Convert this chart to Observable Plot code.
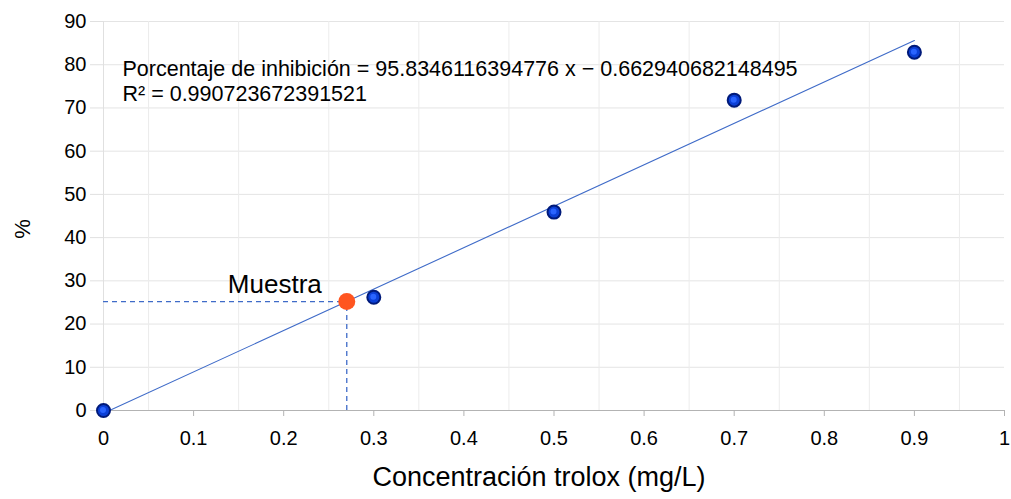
<!DOCTYPE html>
<html>
<head>
<meta charset="utf-8">
<script src="https://cdn.jsdelivr.net/npm/d3@7"></script>
<script src="https://cdn.jsdelivr.net/npm/@observablehq/plot@0.6"></script>
<style>
  html, body { margin: 0; padding: 0; background: #fff; }
  svg { display: block; }
</style>
</head>
<body>
<div id="chart"></div>
<script>
// Data
const concentracion = [0, 0.3, 0.5, 0.7, 0.9];
const inhibicion = [0, 26.2, 45.9, 71.8, 82.9];
const trendX = [0, 0.9];
const trendY = [-0.66, 85.6];
const muestraX = [0.27];
const muestraY = [25.2];
const xTicks = [0, 0.1, 0.2, 0.3, 0.4, 0.5, 0.6, 0.7, 0.8, 0.9, 1];
const xTickLabels = ["0", "0.1", "0.2", "0.3", "0.4", "0.5", "0.6", "0.7", "0.8", "0.9", "1"];
const xMinorGrid = [0.05, 0.15, 0.25, 0.35, 0.45, 0.55, 0.65, 0.75, 0.85, 0.95];
const yTicks = [0, 10, 20, 30, 40, 50, 60, 70, 80, 90];
const equationLines = [
  "Porcentaje de inhibición = 95.8346116394776 x − 0.662940682148495",
  "R² = 0.990723672391521"
];
const xTitle = "Concentración trolox (mg/L)";
const yTitle = "%";
const muestraLabel = "Muestra";

const points = concentracion.map((x, i) => ({x, y: inhibicion[i]}));
const trend = trendX.map((x, i) => ({x, y: trendY[i]}));
const muestra = muestraX.map((x, i) => ({x, y: muestraY[i]}));

const font = "Liberation Sans, Arial, sans-serif";

const chart = Plot.plot({
  width: 1011,
  height: 499,
  marginLeft: 103,
  marginRight: 7,
  marginTop: 21,
  marginBottom: 89,
  style: {fontFamily: font, background: "#fff", color: "#000"},
  x: {domain: [0, 1]},
  y: {domain: [0, 90]},
  marks: [
    Plot.gridY(yTicks, {stroke: "#e4e4e4", strokeOpacity: 1}),
    Plot.gridX(xMinorGrid, {stroke: "#ececec", strokeOpacity: 1}),
    Plot.ruleX([0], {stroke: "#e0e0e0"}),
    Plot.ruleY([0], {stroke: "#b3b3b3"}),
    Plot.axisX(xTicks, {
      tickFormat: (d, i) => xTickLabels[i],
      tickSize: 6, tickPadding: 14, fontSize: 20, stroke: "#b3b3b3", strokeOpacity: 1, label: null
    }),
    Plot.axisY(yTicks, {tickSize: 13, tickPadding: 4, fontSize: 20, stroke: "#e0e0e0", strokeOpacity: 1, label: null}),
    Plot.text([xTitle], {frameAnchor: "bottom", dx: -15, dy: 75, fontSize: 27, text: d => d}),
    Plot.text([yTitle], {frameAnchor: "left", textAnchor: "middle", dx: -81, dy: 13, rotate: -90, fontSize: 22, text: d => d}),
    Plot.line(trend, {x: "x", y: "y", stroke: "#3f6bc8", strokeWidth: 1.1}),
    Plot.ruleY(muestra, {y: "y", x1: 0, x2: "x", stroke: "#3f6bc8", strokeWidth: 1.3, strokeDasharray: "5,4"}),
    Plot.ruleX(muestra, {x: "x", y1: 0, y2: "y", stroke: "#3f6bc8", strokeWidth: 1.3, strokeDasharray: "5,4"}),
    Plot.dot(points, {x: "x", y: "y", r: 6.5, fill: "#0b3fd6", stroke: "#001a7a", strokeWidth: 2}),
    Plot.dot(points, {x: "x", y: "y", r: 3, fill: "#2a64ff", dx: -0.5, dy: -0.5}),
    Plot.dot(muestra, {x: "x", y: "y", r: 8.5, fill: "#ff5520"}),
    Plot.text(muestra, {x: "x", y: "y", text: () => muestraLabel, textAnchor: "end", dx: -25, dy: -17, fontSize: 26}),
    Plot.text([equationLines.join("\n")], {frameAnchor: "top-left", dx: 19, dy: 37, fontSize: 21.5, lineHeight: 1.15, text: d => d})
  ]
});
document.getElementById("chart").appendChild(chart);
</script>
</body>
</html>
